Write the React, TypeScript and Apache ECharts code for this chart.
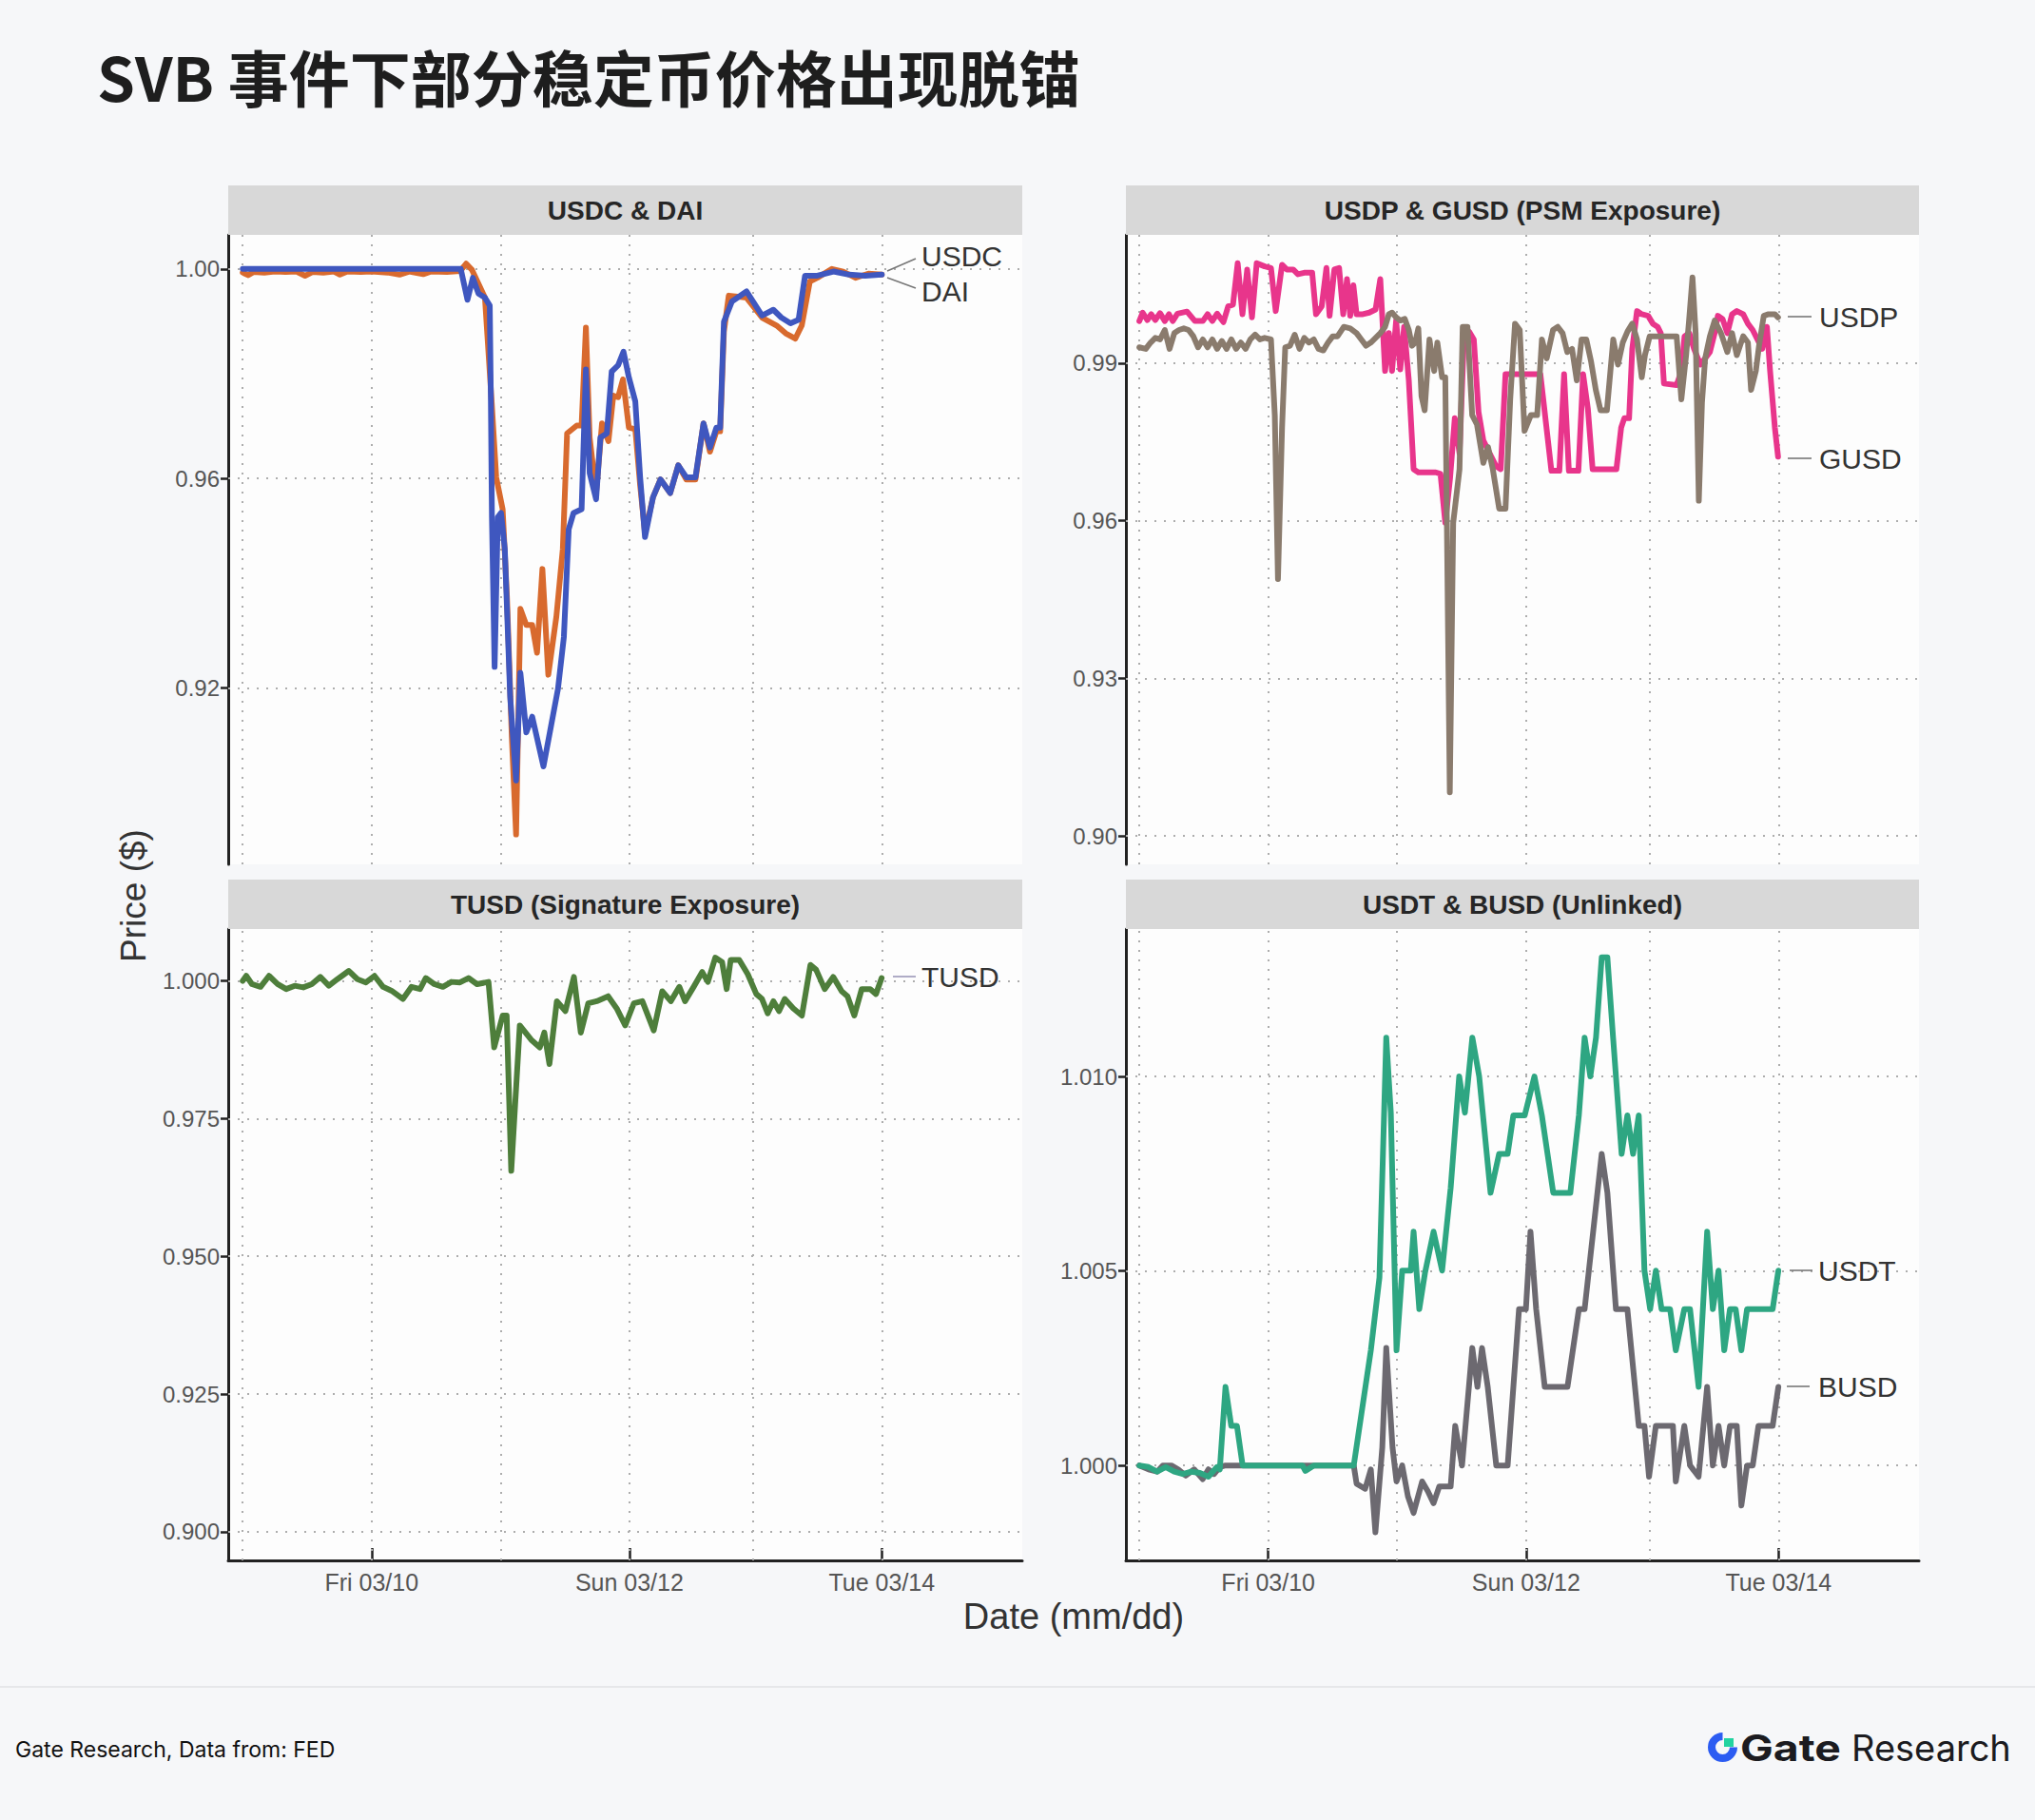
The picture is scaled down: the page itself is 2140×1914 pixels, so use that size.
import React, { useEffect, useRef } from 'react';
import * as echarts from 'echarts';

const W = 2140;
const H = 1914;

// x = hours since Thu 03/09 00:00 (local time, DST on Sun 03/12)
const DAY_GRID_HOURS = [0, 24, 48, 72, 95, 119];
const X_TICK_HOURS = [24, 72, 119];
const X_TICK_LABELS = ['Fri 03/10', 'Sun 03/12', 'Tue 03/14'];

const TICKS_USDC_DAI = [0.92, 0.96, 1.0];
const TICKS_PSM = [0.9, 0.93, 0.96, 0.99];
const TICKS_TUSD = [0.9, 0.925, 0.95, 0.975, 1.0];
const TICKS_UNLINKED = [1.0, 1.005, 1.01];

const PANEL_TITLES = ['USDC & DAI', 'USDP & GUSD (PSM Exposure)', 'TUSD (Signature Exposure)', 'USDT & BUSD (Unlinked)'];

const USDC: [number, number][] = [
  [0, 1.0], [10, 1.0], [20, 1.0], [30, 1.0], [40.6, 1.0],
  [41.85, 0.9941], [42.85, 0.9983], [43.9, 0.9953], [45.1, 0.9945], [46.0, 0.993], [46.2, 0.9755], [46.4, 0.9526],
  [46.9, 0.924], [47.5, 0.9526], [48.1, 0.9534], [48.8, 0.9465], [49.8, 0.9183], [50.9, 0.9023], [51.7, 0.9229],
  [52.8, 0.9115], [53.9, 0.9145], [56.0, 0.905], [58.7, 0.9198], [59.8, 0.9297], [60.7, 0.9503], [61.6, 0.9534],
  [63.1, 0.9541], [63.9, 0.9808], [64.6, 0.961], [65.8, 0.956], [66.6, 0.9678], [67.8, 0.9686], [68.7, 0.9804],
  [69.9, 0.9816], [70.9, 0.9842], [71.9, 0.9793], [73.1, 0.9747], [74.0, 0.9602], [74.9, 0.9488], [76.4, 0.9564],
  [77.8, 0.9598], [79.6, 0.9572], [81.1, 0.9625], [82.6, 0.9602], [84.3, 0.9602], [85.8, 0.9705], [87.0, 0.9659],
  [88.2, 0.9697], [88.9, 0.9697], [89.6, 0.9899], [91.1, 0.9938], [93.8, 0.9957], [96.7, 0.9911], [98.8, 0.9922],
  [100.3, 0.9907], [102.0, 0.9896], [103.5, 0.9903], [104.7, 0.9987], [107.0, 0.9987], [110.0, 0.9995],
  [112.9, 0.9989], [115.9, 0.9987], [119.0, 0.9989],
];

const DAI: [number, number][] = [
  [0, 0.9993], [1, 0.9988], [2, 0.9994], [4, 0.9993], [6, 0.9995], [8, 0.9994], [10, 0.9995], [11.6, 0.9987],
  [13, 0.9994], [15, 0.9993], [17, 0.9995], [18.1, 0.9989], [19.5, 0.9995], [22, 0.9994], [24, 0.9995],
  [27, 0.9993], [29.2, 0.9989], [31, 0.9995], [33.6, 0.999], [35, 0.9995], [38, 0.9994], [40.5, 0.9996],
  [41.6, 1.001], [42.7, 0.9998], [45.1, 0.9945], [46.3, 0.9755], [47.2, 0.9602], [48.4, 0.9541], [49.2, 0.9374],
  [50.1, 0.9107], [50.9, 0.892], [51.7, 0.9351], [52.8, 0.932], [53.9, 0.932], [54.8, 0.9267], [55.8, 0.9427],
  [56.9, 0.9225], [58.4, 0.9336], [59.6, 0.9465], [60.4, 0.9686], [62.2, 0.9701], [63.1, 0.9701], [63.9, 0.9888],
  [64.6, 0.9678], [65.8, 0.9572], [66.9, 0.9705], [68.1, 0.9671], [69.0, 0.9758], [69.9, 0.9755], [70.8, 0.9789],
  [71.9, 0.9697], [73.1, 0.9694], [74.0, 0.9587], [74.9, 0.9496], [76.4, 0.9564], [77.8, 0.9598], [79.6, 0.9572],
  [81.1, 0.9625], [82.6, 0.9598], [84.3, 0.9598], [85.8, 0.9705], [87.0, 0.9651], [88.2, 0.969], [88.9, 0.969],
  [89.6, 0.988], [90.5, 0.9949], [93.8, 0.9945], [96.7, 0.9907], [99.4, 0.9892], [101.1, 0.9877], [102.9, 0.9867],
  [104.1, 0.9892], [105.6, 0.9976], [107.0, 0.9983], [109.7, 1.0], [111.8, 0.9995], [114.1, 0.9983],
  [116.5, 0.9991], [119.0, 0.9989],
];

const GUSD: [number, number][] = [
  [0, 0.998], [0.62, 0.9996], [1.5, 0.9982], [2.21, 0.9993], [2.97, 0.9982], [3.86, 0.9995], [4.74, 0.998],
  [5.51, 0.9993], [6.22, 0.998], [7.1, 0.9994], [8.87, 0.9998], [10.35, 0.998], [11.82, 0.998], [12.71, 0.9993],
  [13.59, 0.998], [14.48, 0.9994], [15.66, 0.9978], [16.54, 1.0008], [17.43, 1.0011], [18.31, 1.009],
  [19.2, 0.9993], [20.08, 1.0078], [20.97, 0.9987], [21.85, 1.009], [23.33, 1.0084], [24.51, 1.0081],
  [25.39, 0.9999], [26.57, 1.0087], [27.46, 1.0078], [28.64, 1.0078], [29.52, 1.0069], [30.7, 1.0072],
  [32.18, 1.0072], [32.89, 0.9993], [33.95, 1.0008], [34.83, 1.0081], [35.42, 0.999], [36.31, 1.0078],
  [37.19, 1.0081], [37.96, 0.9993], [38.67, 1.006], [39.26, 0.999], [39.85, 1.0048], [40.44, 0.9993],
  [41.62, 0.9993], [42.8, 0.9996], [43.98, 1.0002], [44.86, 1.006], [45.75, 0.9885], [46.46, 0.9957],
  [47.05, 0.9885], [47.81, 0.9981], [48.58, 0.9888], [49.29, 0.9969], [50.17, 0.9867], [51.06, 0.9698],
  [51.94, 0.9692], [55.19, 0.9692], [56.07, 0.9689], [56.96, 0.9596], [57.84, 0.968], [58.73, 0.9795],
  [59.61, 0.9728], [60.5, 0.9966], [61.38, 0.996], [62.27, 0.9945], [63.15, 0.9807], [64.04, 0.9753],
  [65.22, 0.9728], [66.4, 0.9704], [67.28, 0.9698], [68.17, 0.9879], [74.66, 0.9879], [76.72, 0.9695],
  [78.2, 0.9695], [79.08, 0.9879], [79.97, 0.9695], [81.74, 0.9695], [82.62, 0.9879], [83.51, 0.9813],
  [84.39, 0.9698], [88.82, 0.9698], [89.7, 0.9777], [90.29, 0.9795], [91.18, 0.9795], [91.77, 0.9927],
  [92.65, 0.9999], [93.54, 0.9993], [94.72, 0.999], [95.6, 0.9975], [96.49, 0.9969], [97.08, 0.9957],
  [97.67, 0.9861], [100.03, 0.9858], [100.91, 0.9885], [101.5, 0.9951], [102.39, 0.9957], [103.27, 0.9927],
  [104.45, 0.9897], [105.34, 0.9909], [106.22, 0.9921], [107.11, 0.9957], [107.7, 0.999], [108.58, 0.9984],
  [109.47, 0.9957], [110.35, 0.9993], [111.24, 0.9999], [112.42, 0.9993], [113.3, 0.9975], [114.19, 0.9963],
  [115.07, 0.9945], [115.96, 0.9927], [116.84, 0.9969], [117.43, 0.9885], [118.32, 0.9777], [118.91, 0.9722],
];

const USDP: [number, number][] = [
  [0, 0.993], [1.2, 0.9927], [2.09, 0.9939], [2.97, 0.9948], [3.86, 0.9945], [4.74, 0.9963], [5.63, 0.9927],
  [6.51, 0.9957], [7.4, 0.9963], [8.28, 0.9966], [9.17, 0.9963], [10.05, 0.9951], [10.94, 0.993],
  [11.82, 0.9945], [12.71, 0.993], [13.59, 0.9945], [14.48, 0.9927], [15.36, 0.9942], [16.25, 0.9927],
  [17.13, 0.9945], [18.02, 0.9927], [18.9, 0.9939], [19.79, 0.9927], [20.67, 0.9945], [21.56, 0.9954],
  [22.44, 0.9945], [23.33, 0.9948], [24.51, 0.9945], [25.22, 0.9801], [25.81, 0.9489], [26.57, 0.9777],
  [27.16, 0.993], [28.05, 0.9933], [28.93, 0.9954], [29.82, 0.9927], [30.7, 0.9948], [31.59, 0.9939],
  [32.47, 0.9945], [33.36, 0.9927], [34.24, 0.9924], [35.13, 0.9939], [36.01, 0.9951], [36.9, 0.9951],
  [38.08, 0.9969], [39.26, 0.9966], [40.44, 0.9957], [41.32, 0.9945], [42.21, 0.9933], [43.09, 0.9939],
  [43.98, 0.9948], [44.86, 0.9957], [45.75, 0.9969], [46.46, 0.9993], [47.05, 0.9996], [47.81, 0.9987],
  [48.58, 0.9981], [49.41, 0.9984], [50.17, 0.9963], [50.76, 0.9933], [51.35, 0.9939], [51.94, 0.9966],
  [52.53, 0.9837], [53.12, 0.981], [54.01, 0.9945], [54.89, 0.9885], [55.48, 0.9939], [56.37, 0.9873],
  [56.96, 0.9873], [57.8, 0.9083], [58.43, 0.9596], [59.61, 0.9698], [60.2, 0.9969], [61.09, 0.9969],
  [61.97, 0.9801], [62.86, 0.9783], [64.04, 0.971], [64.92, 0.974], [65.81, 0.9698], [66.99, 0.9623],
  [68.17, 0.9623], [69.05, 0.9831], [69.94, 0.9975], [70.82, 0.9963], [71.71, 0.9771], [72.89, 0.9801],
  [74.07, 0.9801], [74.95, 0.9945], [75.84, 0.9909], [77.02, 0.9963], [77.9, 0.9969], [78.79, 0.9957],
  [79.67, 0.9921], [80.56, 0.9927], [81.44, 0.9867], [82.33, 0.9945], [83.21, 0.9945], [84.1, 0.9903],
  [84.98, 0.9849], [85.87, 0.981], [87.05, 0.981], [88.23, 0.9945], [89.11, 0.9897], [90.0, 0.9939],
  [90.88, 0.996], [91.77, 0.9975], [92.65, 0.9945], [93.54, 0.9873], [94.13, 0.9915], [95.01, 0.9951],
  [100.03, 0.9951], [100.91, 0.9831], [101.8, 0.9915], [102.39, 0.9987], [102.98, 1.0063], [103.57, 0.9957],
  [104.16, 0.9638], [104.75, 0.9825], [105.34, 0.9909], [106.22, 0.9951], [107.11, 0.9981], [108.29, 0.9957],
  [109.47, 0.9921], [110.35, 0.9957], [111.24, 0.9915], [112.42, 0.9951], [113.3, 0.9939], [113.89, 0.9849],
  [114.78, 0.9885], [115.37, 0.9933], [116.25, 0.999], [117.14, 0.9993], [118.32, 0.9993], [118.91, 0.9987],
];

const TUSD: [number, number][] = [
  [0, 1.0], [0.66, 1.0009], [1.72, 0.9994], [3.31, 0.9989], [4.9, 1.0009], [6.49, 0.9994], [8.09, 0.9985],
  [9.68, 0.9991], [11.27, 0.9988], [12.86, 0.9994], [14.45, 1.0007], [16.04, 0.9991], [17.64, 1.0003],
  [19.76, 1.0018], [21.35, 1.0003], [22.94, 0.9997], [24.53, 1.0009], [26.13, 0.9989], [27.72, 0.9982],
  [29.84, 0.9967], [31.43, 0.9989], [33.02, 0.9985], [34.08, 1.0005], [35.68, 0.9994], [37.27, 0.9989],
  [38.86, 0.9998], [40.45, 0.9997], [42.04, 1.0005], [43.63, 0.9994], [45.76, 0.9998], [46.82, 0.9879],
  [48.41, 0.9937], [49.15, 0.9937], [50.0, 0.9655], [51.59, 0.9919], [53.71, 0.9893], [55.31, 0.9879],
  [56.16, 0.9906], [57.11, 0.9849], [58.49, 0.9963], [60.08, 0.9945], [61.67, 1.0007], [62.95, 0.9906],
  [64.33, 0.9959], [65.92, 0.9963], [68.04, 0.9972], [69.63, 0.995], [71.22, 0.9919], [72.82, 0.9959],
  [74.41, 0.9963], [76.53, 0.991], [78.12, 0.9981], [79.71, 0.9963], [81.3, 0.9989], [82.36, 0.9963],
  [83.96, 0.9989], [85.55, 1.0016], [86.61, 0.9998], [87.99, 1.0042], [89.26, 1.0034], [90.11, 0.9985],
  [90.86, 1.0038], [92.45, 1.0038], [94.04, 1.0012], [95.63, 0.9976], [96.69, 0.9967], [97.75, 0.9941],
  [98.81, 0.9963], [99.87, 0.9945], [100.93, 0.9967], [102.52, 0.995], [104.12, 0.9937], [105.71, 1.0029],
  [106.77, 1.002], [108.36, 0.9985], [109.95, 1.0007], [111.54, 0.9981], [112.61, 0.9972], [113.88, 0.9937],
  [115.26, 0.9985], [116.85, 0.9985], [117.91, 0.9976], [118.97, 1.0005],
];

const USDT: [number, number][] = [
  [0, 1.0], [1.72, 0.99996], [3.31, 0.99984], [4.9, 0.99996], [6.5, 0.99984], [8.09, 0.99978], [9.68, 0.99984],
  [11.27, 0.99981], [12.86, 0.99971], [14.45, 0.99996], [14.98, 0.9999], [16.04, 1.00202], [17.11, 1.00102],
  [18.17, 1.00102], [19.23, 1.0], [30.37, 1.0], [30.9, 0.99986], [32.49, 1.0], [39.92, 1.0], [43.1, 1.00296],
  [44.7, 1.00483], [45.97, 1.011], [46.82, 1.00907], [47.88, 1.00296], [48.94, 1.00501], [50.53, 1.00501],
  [51.06, 1.00601], [52.12, 1.00402], [53.18, 1.00495], [54.78, 1.00601], [56.37, 1.00501], [57.96, 1.00713],
  [59.55, 1.01], [60.61, 1.00907], [62.0, 1.011], [63.27, 1.01], [65.39, 1.00701], [66.98, 1.00801],
  [68.57, 1.00801], [69.63, 1.009], [71.75, 1.009], [73.56, 1.01], [74.94, 1.009], [77.06, 1.00701],
  [80.24, 1.00701], [81.83, 1.009], [82.9, 1.011], [83.96, 1.01], [85.02, 1.011], [86.08, 1.01306],
  [87.14, 1.01306], [88.2, 1.011], [89.79, 1.00801], [90.86, 1.009], [91.92, 1.00801], [92.98, 1.009],
  [94.04, 1.00501], [95.1, 1.00402], [96.16, 1.00501], [97.22, 1.00402], [98.81, 1.00402], [99.87, 1.00296],
  [101.46, 1.00402], [102.53, 1.00402], [104.12, 1.00202], [105.71, 1.00601], [106.77, 1.00402],
  [107.83, 1.00501], [108.89, 1.00296], [109.96, 1.00402], [111.02, 1.00402], [112.08, 1.00296],
  [113.14, 1.00402], [117.91, 1.00402], [118.97, 1.00501],
];

const BUSD: [number, number][] = [
  [0, 1.0], [1.72, 0.9999], [3.31, 0.99984], [4.37, 1.0], [5.97, 1.0], [7.24, 0.9999], [8.62, 0.99974],
  [10.21, 0.9999], [11.8, 0.99965], [12.86, 0.9999], [13.92, 0.99978], [14.98, 0.99996], [16.04, 1.0],
  [30.37, 1.0], [39.92, 1.0], [40.45, 0.99953], [42.04, 0.9994], [43.1, 0.9999], [43.95, 0.99828],
  [45.23, 1.00046], [45.97, 1.00302], [47.14, 1.00046], [47.88, 0.99959], [48.94, 1.0], [50.0, 0.99921],
  [51.06, 0.99878], [52.65, 0.99959], [53.71, 0.99934], [54.78, 0.99903], [55.84, 0.99946], [57.96, 0.99946],
  [58.81, 1.00102], [60.08, 1.0], [61.99, 1.00302], [62.95, 1.00202], [63.8, 1.00302], [64.86, 1.00202],
  [66.45, 1.0], [68.57, 1.0], [70.69, 1.00402], [71.97, 1.00402], [72.82, 1.00601], [73.88, 1.00402],
  [75.47, 1.00202], [79.71, 1.00202], [81.83, 1.00402], [82.9, 1.00402], [84.49, 1.00601], [86.08, 1.00801],
  [87.14, 1.00701], [88.73, 1.00402], [90.86, 1.00402], [92.98, 1.00102], [94.04, 1.00102], [94.89, 0.99971],
  [96.16, 1.00102], [99.34, 1.00102], [99.87, 0.99959], [101.46, 1.00102], [102.53, 1.0], [104.12, 0.99971],
  [105.71, 1.00202], [106.77, 1.0], [107.83, 1.00102], [108.89, 1.0], [109.96, 1.00102], [111.23, 1.00102],
  [112.08, 0.99897], [113.14, 1.0], [114.2, 1.0], [115.26, 1.00102], [117.91, 1.00102], [118.97, 1.00202],
];

type Panel = {
  grid: { left: number; top: number; width: number; height: number };
  xMin: number; xMax: number; yMin: number; yMax: number;
  ticks: number[]; dec: number; showX: boolean;
  series: { name: string; data: [number, number][]; color: string }[];
};

const PANELS: Panel[] = [
  {
    grid: { left: 240, top: 247, width: 835, height: 662 }, xMin: -2.7, xMax: 145.15, yMin: 0.8863, yMax: 1.0065,
    ticks: TICKS_USDC_DAI, dec: 2, showX: false,
    series: [{ name: 'DAI', data: DAI, color: '#D86A2E' }, { name: 'USDC', data: USDC, color: '#3F57BF' }],
  },
  {
    grid: { left: 1184, top: 247, width: 834, height: 662 }, xMin: -2.5, xMax: 145.15, yMin: 0.8946, yMax: 1.0144,
    ticks: TICKS_PSM, dec: 2, showX: false,
    series: [{ name: 'GUSD', data: GUSD, color: '#E8358B' }, { name: 'USDP', data: USDP, color: '#8A7B6D' }],
  },
  {
    grid: { left: 240, top: 977, width: 835, height: 664 }, xMin: -2.7, xMax: 145.15, yMin: 0.8948, yMax: 1.0094,
    ticks: TICKS_TUSD, dec: 3, showX: true,
    series: [{ name: 'TUSD', data: TUSD, color: '#4E7E3B' }],
  },
  {
    grid: { left: 1184, top: 977, width: 834, height: 664 }, xMin: -2.5, xMax: 145.15, yMin: 0.99756, yMax: 1.01379,
    ticks: TICKS_UNLINKED, dec: 3, showX: true,
    series: [{ name: 'BUSD', data: BUSD, color: '#6C6970' }, { name: 'USDT', data: USDT, color: '#2EA682' }],
  },
];

// series end labels: [name, textX, textY, lineX1, lineY1, lineX2, lineY2]
const END_LABELS: [string, number, number, number, number, number, number][] = [
  ['USDC', 969, 269, 933, 285, 963, 272],
  ['DAI', 969, 306, 933, 292, 963, 303],
  ['USDP', 1913, 333, 1880, 333, 1905, 333],
  ['GUSD', 1913, 482, 1880, 482, 1905, 482],
  ['TUSD', 969, 1027, 939, 1027, 963, 1027],
  ['USDT', 1912, 1336, 1882, 1336, 1906, 1336],
  ['BUSD', 1912, 1458, 1879, 1458, 1903, 1458],
];

const FONT = '"Liberation Sans", Arial, sans-serif';

function txt(text: string, x: number, y: number, font: string, fill: string, align = 'left', extra: any = {}) {
  return {
    type: 'text', x, y, silent: true, ...extra,
    style: { text, font, fill, textAlign: align, align, textVerticalAlign: 'middle', verticalAlign: 'middle' },
  };
}

function buildOption() {
  const grid: any[] = [];
  const xAxis: any[] = [];
  const yAxis: any[] = [];
  const series: any[] = [];
  const graphic: any[] = [];

  PANELS.forEach((p, i) => {
    grid.push({ ...p.grid, containLabel: false, outerBoundsMode: 'none', show: true, backgroundColor: '#fdfdfd', borderWidth: 0 });
    xAxis.push({
      type: 'value', gridIndex: i, min: p.xMin, max: p.xMax,
      axisLine: { show: p.showX, onZero: false, lineStyle: { color: '#222', width: 3 } },
      axisTick: { show: p.showX, inside: true, length: 13, customValues: X_TICK_HOURS, lineStyle: { color: '#222', width: 2.5 } },
      axisLabel: {
        show: p.showX, customValues: X_TICK_HOURS, margin: 10, color: '#555', fontSize: 25, fontFamily: FONT,
        formatter: (v: number) => { const k = X_TICK_HOURS.indexOf(v); return k >= 0 ? X_TICK_LABELS[k] : ''; },
      },
      splitLine: { show: false },
    });
    yAxis.push({
      type: 'value', gridIndex: i, min: p.yMin, max: p.yMax,
      axisLine: { show: true, onZero: false, lineStyle: { color: '#222', width: 3 } },
      axisTick: { show: true, length: 8, customValues: p.ticks, lineStyle: { color: '#222', width: 2.5 } },
      axisLabel: {
        customValues: p.ticks, margin: 9, color: '#555', fontSize: 24, fontFamily: FONT,
        formatter: (v: number) => v.toFixed(p.dec),
      },
      splitLine: { show: false },
    });
    series.push({
      type: 'line', xAxisIndex: i, yAxisIndex: i, data: [], silent: true, z: 1,
      markLine: {
        silent: true, symbol: ['none', 'none'], z: 1, animation: false, precision: 6, label: { show: false },
        emphasis: { disabled: true },
        lineStyle: { type: [2, 8], color: '#adadad', width: 2 },
        data: [...DAY_GRID_HOURS.map((h) => ({ xAxis: h })), ...p.ticks.map((t) => ({ yAxis: t }))],
      },
    });
    p.series.forEach((s) => {
      series.push({
        type: 'line', name: s.name, xAxisIndex: i, yAxisIndex: i, data: s.data, showSymbol: false, symbol: 'none',
        silent: true, z: 3, emphasis: { disabled: true },
        lineStyle: { color: s.color, width: 6, cap: 'round', join: 'round' }, itemStyle: { color: s.color },
      });
    });
    // strip header
    graphic.push({
      type: 'rect', silent: true, z: 5,
      shape: { x: p.grid.left, y: p.grid.top - 52, width: p.grid.width, height: 52 },
      style: { fill: '#d8d8d8' },
    });
    graphic.push({ ...txt(PANEL_TITLES[i], p.grid.left + p.grid.width / 2, p.grid.top - 26, `bold 28px ${FONT}`, '#262626', 'center'), z: 6 });
  });

  END_LABELS.forEach(([name, tx, ty, x1, y1, x2, y2]) => {
    graphic.push({
      type: 'line', silent: true, z: 6,
      shape: { x1, y1, x2, y2 },
      style: { stroke: name === 'TUSD' ? '#9b98b8' : '#777', lineWidth: 1.6 },
    });
    graphic.push({ ...txt(name, tx, ty, `30px ${FONT}`, '#333'), z: 6 });
  });

  // title
  graphic.push(txt('SVB 事件下部分稳定币价格出现脱锚', 102, 79, 'bold 64px "Noto Sans CJK SC", sans-serif', '#1e1e1e'));
  // axis titles
  graphic.push(txt('Price ($)', 140, 942, `37px ${FONT}`, '#333', 'center', { rotation: Math.PI / 2 }));
  graphic.push(txt('Date (mm/dd)', 1129, 1700, `38px ${FONT}`, '#333', 'center'));
  // footer
  graphic.push({
    type: 'rect', silent: true, shape: { x: 0, y: 1773, width: W, height: 2 }, style: { fill: '#e6e7ea' },
  });
  graphic.push(txt('Gate Research, Data from: FED', 16, 1840, '23px Inter, sans-serif', '#111'));
  // logo
  graphic.push({
    type: 'arc', silent: true,
    shape: { cx: 1811.5, cy: 1837.5, r: 11.5, startAngle: 0, endAngle: Math.PI * 1.5, clockwise: true },
    style: { stroke: '#2c5cf2', lineWidth: 8, fill: 'none' },
  });
  graphic.push({ type: 'rect', silent: true, shape: { x: 1813, y: 1828, width: 10, height: 9 }, style: { fill: '#22d3a0' } });
  graphic.push(txt('Gate', 1830, 1838, 'bold 38px Inter, sans-serif', '#1b1b20', 'left', { scaleX: 1.22 }));
  graphic.push(txt('Research', 1947, 1838, '38px Inter, sans-serif', '#1b1b20'));

  return {
    animation: false,
    backgroundColor: '#f6f7f9',
    grid, xAxis, yAxis, series, graphic,
  };
}

export default function App() {
  const ref = useRef<HTMLDivElement>(null);
  useEffect(() => {
    if (!ref.current) return;
    const chart = echarts.init(ref.current, undefined, { renderer: 'svg', width: W, height: H });
    chart.setOption(buildOption() as any);
    return () => chart.dispose();
  }, []);
  return <div ref={ref} style={{ position: 'absolute', left: 0, top: 0, width: W, height: H }} />;
}
